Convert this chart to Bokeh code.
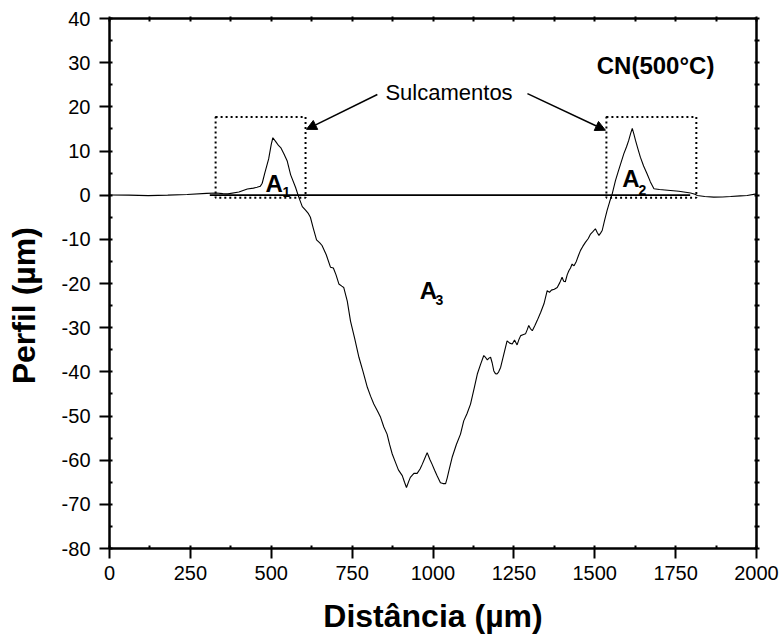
from bokeh.plotting import figure
from bokeh.models import (Range1d, LinearAxis, SingleIntervalTicker, Label, Arrow,
                          NormalHead, CustomJSTickFormatter)
from bokeh.embed import file_html
from bokeh.resources import INLINE

# ---- data ----
dist = [0, 60, 120, 180, 240, 300, 330, 350, 366, 400, 426, 445, 456, 466, 472, 480, 492, 500,
        505, 515, 523, 530, 539, 549, 560, 575, 585, 596, 606, 615, 621, 630, 640, 650, 657, 670,
        683, 692, 700, 709, 718, 724, 735, 745, 758, 771, 784, 797, 807, 817, 828, 838, 848, 858,
        866, 874, 884, 893, 905, 912, 918, 925, 930, 941, 951, 960, 967, 975, 982, 990, 997, 1005,
        1013, 1023, 1031, 1039, 1044, 1049, 1059, 1072, 1085, 1095, 1105, 1116, 1127, 1137, 1147,
        1157, 1163, 1168, 1173, 1178, 1183, 1188, 1193, 1198, 1203, 1209, 1219, 1229, 1237, 1245,
        1252, 1260, 1266, 1271, 1278, 1286, 1291, 1296, 1301, 1307, 1315, 1322, 1333, 1343, 1353,
        1360, 1366, 1375, 1384, 1392, 1399, 1404, 1409, 1415, 1420, 1425, 1430, 1436, 1443, 1450,
        1456, 1463, 1471, 1480, 1487, 1495, 1502, 1508, 1513, 1518, 1523, 1530, 1538, 1546, 1554,
        1564, 1572, 1580, 1590, 1598, 1605, 1611, 1616, 1621, 1626, 1633, 1641, 1651, 1662, 1672,
        1683, 1700, 1734, 1760, 1796, 1810, 1817, 1840, 1868, 1895, 1920, 1950, 1971, 2000]
perfil = [0.05, 0.0, -0.1, 0.0, 0.15, 0.4, 0.5, 0.35, 0.3, 0.7, 1.4, 1.6, 1.8, 2.0, 2.7, 5.0, 8.2,
          11.5, 13.0, 12.0, 11.2, 10.7, 9.4, 7.8, 4.6, 1.8, -0.45, -2.6, -3.4, -4.2, -5.0, -7.5,
          -10.1, -10.8, -11.4, -13.5, -16.3, -16.5, -18.0, -20.1, -20.6, -20.9, -24.0, -28.5, -32.5,
          -36.7, -40.0, -43.5, -45.5, -47.3, -48.8, -50.3, -52.5, -54.1, -56.5, -58.6, -60.5, -62.2,
          -63.5, -65.0, -66.2, -64.8, -63.9, -63.0, -63.0, -62.0, -60.9, -59.5, -58.3, -59.8, -60.9,
          -62.3, -63.6, -65.1, -65.3, -65.3, -64.0, -62.4, -59.4, -56.5, -54.1, -51.1, -49.5, -47.3,
          -43.8, -40.5, -38.3, -36.3, -36.8, -37.3, -36.9, -36.7, -38.0, -39.8, -40.4, -40.5, -40.0,
          -39.0, -36.0, -33.0, -33.5, -33.7, -32.8, -33.9, -32.6, -31.8, -31.6, -31.4, -30.5, -29.5,
          -30.2, -30.7, -29.5, -28.4, -26.5, -24.6, -21.6, -22.0, -21.5, -21.3, -20.9, -19.8, -18.6,
          -19.5, -19.6, -18.0, -17.1, -16.5, -15.6, -16.0, -15.0, -13.6, -12.5, -11.6, -10.7, -9.8,
          -8.8, -8.2, -7.6, -8.5, -9.1, -8.6, -8.0, -5.8, -3.5, -1.5, 0.3, 3.3, 5.2, 7.1, 9.4, 10.9,
          12.4, 14.0, 15.1, 13.8, 12.4, 10.6, 8.6, 6.6, 4.8, 3.0, 1.45, 1.3, 1.07, 0.9, 0.5, 0.2,
          -0.07, -0.3, -0.45, -0.4, -0.3, -0.15, -0.07, 0.3]

baseline_x = [310, 1795]
baseline_y = [0, 0]

box_left = [328, 1536]
box_right = [606, 1814]
box_bottom = [-0.6, -0.6]
box_top = [17.7, 17.7]

x_title = "Distância (µm)"
y_title = "Perfil (µm)"
FONT = "Liberation Sans"

p = figure(width=782, height=639, x_range=Range1d(0, 2000), y_range=Range1d(-80, 40),
           output_backend="svg", toolbar_location=None,
           min_border_left=109, min_border_right=26, min_border_top=18, min_border_bottom=91,
           background_fill_color="white", border_fill_color="white")
p.outline_line_color = None
p.xgrid.visible = False
p.ygrid.visible = False

hyphen = CustomJSTickFormatter(code="return tick.toString()")

xa = p.xaxis[0]
xa.ticker = SingleIntervalTicker(interval=250, num_minor_ticks=2)
ya = p.yaxis[0]
ya.ticker = SingleIntervalTicker(interval=10, num_minor_ticks=2)
for ax in (xa, ya):
    ax.formatter = hyphen
    ax.axis_line_width = 2.5
    ax.axis_line_color = "black"
    ax.major_tick_line_width = 2
    ax.minor_tick_line_width = 2
    ax.major_tick_out = 10
    ax.major_tick_in = 0
    ax.minor_tick_in = 3
    ax.minor_tick_out = 0
    ax.major_label_text_font = FONT
    ax.major_label_text_font_size = "20px"
    ax.major_label_text_color = "black"
    ax.axis_label_text_font = FONT
    ax.axis_label_text_font_size = "32px"
    ax.axis_label_text_font_style = "bold"
    ax.axis_label_text_color = "black"
xa.axis_label = x_title
# trailing no-break spaces shift the visible title down, as in the reference
ya.axis_label = y_title + "\u00a0" * 5
xa.major_label_standoff = 7
xa.axis_label_standoff = 15
ya.major_label_standoff = 9
ya.axis_label_standoff = 17

blank = CustomJSTickFormatter(code="return ''")
top = LinearAxis(ticker=SingleIntervalTicker(interval=125, num_minor_ticks=0), formatter=blank,
                 axis_line_width=2.5, major_tick_line_width=2, major_tick_in=3, major_tick_out=2,
                 minor_tick_in=0, minor_tick_out=0, major_label_text_font_size="1px",
                 major_label_standoff=0)
right = LinearAxis(ticker=SingleIntervalTicker(interval=5, num_minor_ticks=0), formatter=blank,
                   axis_line_width=2.5, major_tick_line_width=2, major_tick_in=2, major_tick_out=3,
                   minor_tick_in=0, minor_tick_out=0, major_label_text_font_size="1px",
                   major_label_standoff=0)
p.add_layout(top, "above")
p.add_layout(right, "right")

# data
p.line(baseline_x, baseline_y, line_color="black", line_width=1.6)
p.line(dist, perfil, line_color="black", line_width=1.1)
p.quad(left=box_left, right=box_right, bottom=box_bottom, top=box_top, fill_color=None,
       line_color="black", line_width=2, line_dash="2 3")

# annotations
for xs, ys, xe, ye in ((828, 22.8, 609, 14.9), (1292, 23.0, 1533, 14.7)):
    p.add_layout(Arrow(end=NormalHead(size=10, fill_color="black", line_color="black"),
                       x_start=xs, y_start=ys, x_end=xe, y_end=ye,
                       line_color="black", line_width=1.5))

def lab(x, y, t, size, bold=True, align="left"):
    p.add_layout(Label(x=x, y=y, text=t, text_font=FONT, text_font_size=size,
                       text_font_style="bold" if bold else "normal", text_color="black",
                       text_align=align, text_baseline="alphabetic"))

lab(853, 23.3, "Sulcamentos", "22px", bold=False)
lab(1688, 29.4, "CN(500°C)", "24px", align="center")
lab(482, 2.6, "A", "24px")
lab(535, 0.7, "1", "14px")
lab(1585, 3.7, "A", "24px")
lab(1635, 1.2, "2", "14px")
lab(959, -21.5, "A", "24px")
lab(1008, -23.7, "3", "14px")

open("out.html", "w").write(file_html(p, INLINE))
